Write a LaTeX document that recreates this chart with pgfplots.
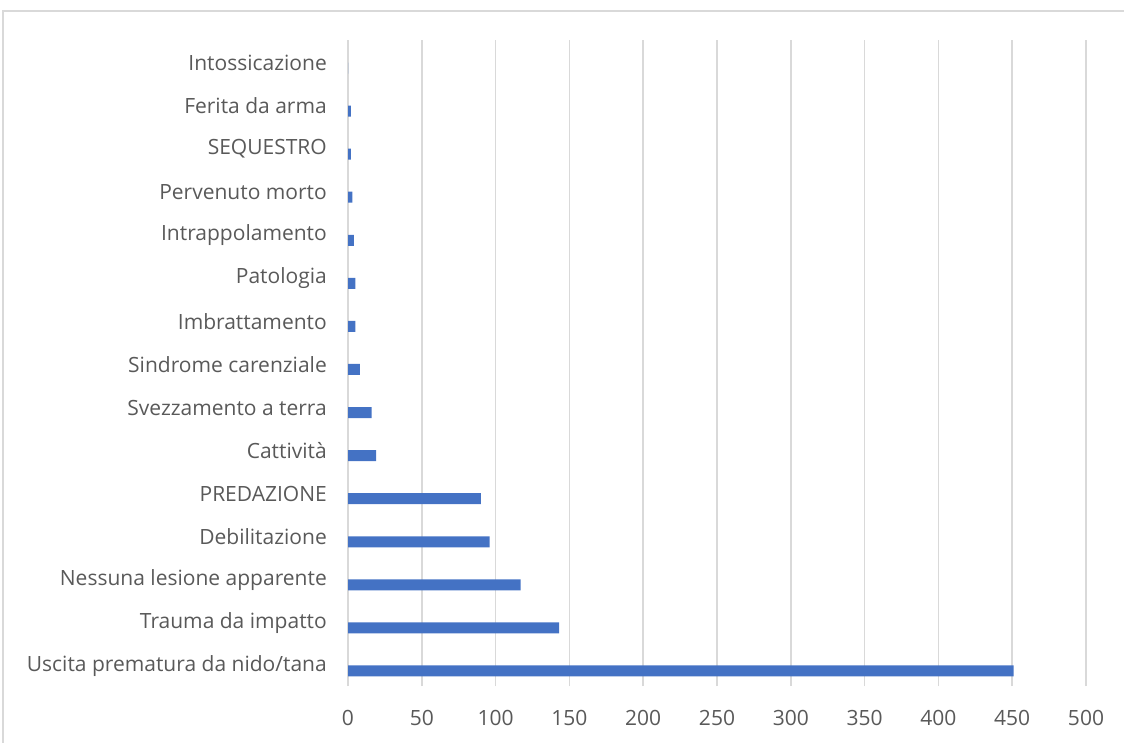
\documentclass[border=0pt]{standalone}
\usepackage{pgfplots}
\pgfplotsset{compat=1.18}
\usepackage{fontspec}
\setmainfont{Open Sans}
\definecolor{barblue}{HTML}{4472C4}
\definecolor{gridgray}{HTML}{D9D9D9}
\definecolor{textgray}{HTML}{595959}
\begin{document}
\begin{tikzpicture}[x=1pt,y=1pt]
\useasboundingbox (0,0) rectangle (1124,742);
\draw[gridgray, line width=1.5pt] (3,-20) -- (3,731) -- (1140,731);
\begin{axis}[
  at={(348pt,56pt)}, anchor=south west,
  scale only axis, width=738pt, height=646pt,
  xmin=0, xmax=500, ymin=-0.5, ymax=14.5,
  xtick={0,50,...,500},
  ytick={0,...,14},
  yticklabels={Uscita prematura da nido/tana, Trauma da impatto, Nessuna lesione apparente, Debilitazione, PREDAZIONE, Cattività, Svezzamento a terra\hspace{5pt}, Sindrome carenziale, Imbrattamento, Patologia, Intrappolamento, Pervenuto morto, SEQUESTRO\hspace{1pt}, Ferita da arma, Intossicazione},
  xmajorgrids, major grid style={gridgray, line width=1.5pt},
  major tick length=0pt,
  axis line style={draw=none},
  axis x line*=bottom, axis y line*=left,
  ticklabel style={font=\fontsize{21}{24}\selectfont, text=textgray},
  xticklabel style={inner sep=0pt, yshift=-24pt},
  yticklabel style={inner sep=0pt, anchor=east, xshift=-21pt, yshift=-1.5pt},
  /pgf/number format/assume math mode=true,
  clip=false,
]
\draw[gridgray, line width=1.5pt] (axis cs:0,-0.5) -- (axis cs:0,14.5);
\addplot[xbar, bar width=11pt, bar shift=-6.5pt, fill=barblue, draw=none]
  coordinates {
    (451,0) (143,1) (117,2) (96,3) (90,4) (19,5) (16,6) (8,7)
    (5,8) (5,9) (4,10) (3,11) (2,12) (2,13) (0,14)
  };
\end{axis}
\end{tikzpicture}
\end{document}
